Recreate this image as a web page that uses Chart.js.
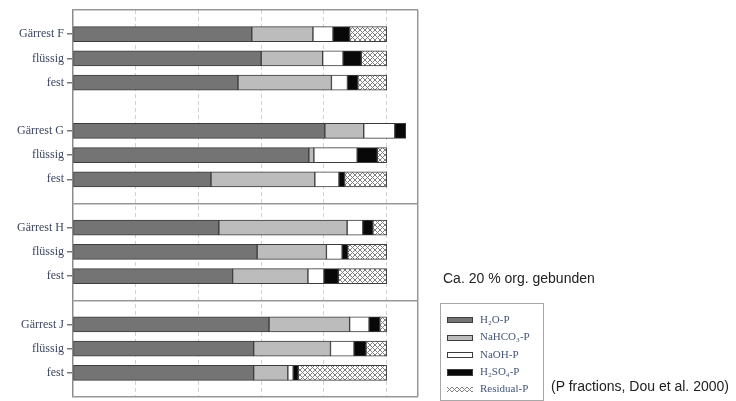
<!DOCTYPE html>
<html lang="de">
<head>
  <meta charset="UTF-8">
  <title>P-Fraktionen Gärreste</title>
  <script src="https://cdn.jsdelivr.net/npm/chart.js"></script>
  <style>
    html, body {
      margin: 0;
      padding: 0;
      background: #fff;
    }
    #wrap {
      position: relative;
      width: 736px;
      height: 401px;
    }
    #chart {
      position: absolute;
      left: 0;
      top: 0;
    }
    .note {
      position: absolute;
      font-family: 'Liberation Sans', Arial, sans-serif;
      font-size: 14px;
      line-height: 16px;
      color: #222;
      white-space: nowrap;
    }
    #legend {
      position: absolute;
      left: 440px;
      top: 303px;
      width: 104px;
      height: 98px;
      border: 1.5px solid #a8a8a8;
      box-sizing: border-box;
      font-family: 'Liberation Serif', 'DejaVu Serif', serif;
      font-size: 11px;
      color: #44557a;
    }
    #legend .item {
      position: absolute;
      left: 6px;
      height: 12px;
      line-height: 12px;
      white-space: nowrap;
    }
    #legend .sw {
      display: inline-block;
      width: 26px;
      height: 6px;
      box-sizing: border-box;
      vertical-align: middle;
      margin-right: 7px;
    }
  </style>
</head>
<body>

<div id="wrap">
  <canvas id="chart" width="736" height="401"></canvas>
  <div class="note" style="left:443px; top:270px;">Ca. 20 % org. gebunden</div>
  <div class="note" style="left:551px; top:378px;">(P fractions, Dou et al. 2000)</div>
  <div id="legend"></div>
</div>

<script>
  // rows top to bottom, '' = empty slot between the groups
  const rowLabels = ['', 'Gärrest F', 'flüssig', 'fest', '', 'Gärrest G', 'flüssig', 'fest', '',
                     'Gärrest H', 'flüssig', 'fest', '', 'Gärrest J', 'flüssig', 'fest', ''];

  // P fractions in % of total P
  const h2oP     = [null, 57.0, 60.0, 52.6, null, 80.3, 75.2, 44.0, null, 46.5, 58.7, 50.9, null, 62.5, 57.6, 57.6, null];
  const nahco3P  = [null, 19.5, 19.6, 29.8, null, 12.4,  1.6, 33.1, null, 40.9, 22.1, 24.0, null, 25.7, 24.5, 10.9, null];
  const naohP    = [null,  6.4,  6.5,  5.1, null,  9.9, 13.8,  7.7, null,  5.0,  5.0,  5.1, null,  6.2,  7.5,  1.7, null];
  const h2so4P   = [null,  5.3,  5.8,  3.3, null,  3.5,  6.4,  1.8, null,  3.2,  1.8,  4.6, null,  3.4,  3.8,  1.6, null];
  const residualP = [null, 11.8,  8.1,  9.2, null,  0.0,  3.0, 13.4, null,  4.4, 12.4, 15.4, null,  2.2,  6.6, 28.2, null];

  const seriesNames = ['H₂O-P', 'NaHCO₃-P', 'NaOH-P', 'H₂SO₄-P', 'Residual-P'];
  const xTicks = [0, 20, 40, 60, 80, 100, 110];
  const separatorRows = [0, 8, 12, 16];

  // cross hatch for the residual fraction
  function makeHatchTile() {
    const c = document.createElement('canvas');
    c.width = 5;
    c.height = 5;
    const g = c.getContext('2d');
    g.fillStyle = '#fff';
    g.fillRect(0, 0, 5, 5);
    g.strokeStyle = '#808080';
    g.lineWidth = 1;
    g.beginPath();
    g.moveTo(0, 0); g.lineTo(5, 5);
    g.moveTo(5, 0); g.lineTo(0, 5);
    g.stroke();
    return c;
  }

  const hatchTile = makeHatchTile();
  const ctx = document.getElementById('chart').getContext('2d');
  const hatch = ctx.createPattern(hatchTile, 'repeat');

  const colors = ['#747474', '#bcbcbc', '#ffffff', '#080808', hatch];
  const values = [h2oP, nahco3P, naohP, h2so4P, residualP];

  const datasets = values.map((v, i) => ({
    label: seriesNames[i],
    data: v,
    backgroundColor: colors[i],
    borderColor: '#3c3c3c',
    borderWidth: 1,
    borderSkipped: false,
    barThickness: 15
  }));

  const chart = new Chart(ctx, {
    type: 'bar',
    data: { labels: rowLabels, datasets: datasets },
    options: {
      indexAxis: 'y',
      responsive: false,
      animation: false,
      layout: { padding: { left: 0, right: 318, top: 10, bottom: 4 } },
      plugins: {
        legend: { display: false },
        tooltip: { enabled: false }
      },
      scales: {
        x: {
          type: 'linear',
          stacked: true,
          min: 0,
          max: 110,
          afterBuildTicks: s => { s.ticks = xTicks.map(v => ({ value: v })); },
          afterFit: s => { s.height = 0; },
          ticks: { display: false },
          grid: {
            drawTicks: false,
            lineWidth: c => (c.tick && c.tick.value === 110) ? 1.5 : 1,
            color: c => {
              if (!c.tick || c.tick.value === 0) return 'transparent';
              return c.tick.value === 110 ? '#979797' : '#d2d2d2';
            }
          },
          border: {
            display: false,
            dash: c => (c.tick && c.tick.value === 110) ? [] : [4, 3]
          }
        },
        y: {
          type: 'category',
          stacked: true,
          offset: false,
          afterFit: s => {
            s.width = 73;
            s.paddingTop = 0;
            s.paddingBottom = 0;
          },
          ticks: {
            autoSkip: false,
            padding: 3,
            color: '#3d4661',
            font: { family: "'Liberation Serif', 'DejaVu Serif', serif", size: 12 }
          },
          grid: {
            offset: false,
            tickLength: 6,
            lineWidth: 1.5,
            color: c => separatorRows.includes(c.index) ? '#979797' : 'transparent',
            tickColor: c => rowLabels[c.index] ? '#777' : 'transparent'
          },
          border: { color: '#8c8c8c', width: 1.5 }
        }
      }
    }
  });

  // legend built from the datasets
  const legend = document.getElementById('legend');
  chart.data.datasets.forEach((ds, i) => {
    const item = document.createElement('div');
    item.className = 'item';
    item.style.top = (9 + i * 17.3) + 'px';
    const sw = document.createElement('span');
    sw.className = 'sw';
    if (typeof ds.backgroundColor === 'string') {
      sw.style.background = ds.backgroundColor;
      sw.style.border = '1px solid #3c3c3c';
      if (i === 3) sw.style.height = '7px';
    } else {
      sw.style.backgroundImage = 'url(' + hatchTile.toDataURL() + ')';
      sw.style.height = '5px';
    }
    item.appendChild(sw);
    item.appendChild(document.createTextNode(ds.label));
    legend.appendChild(item);
  });
</script>

</body>
</html>
